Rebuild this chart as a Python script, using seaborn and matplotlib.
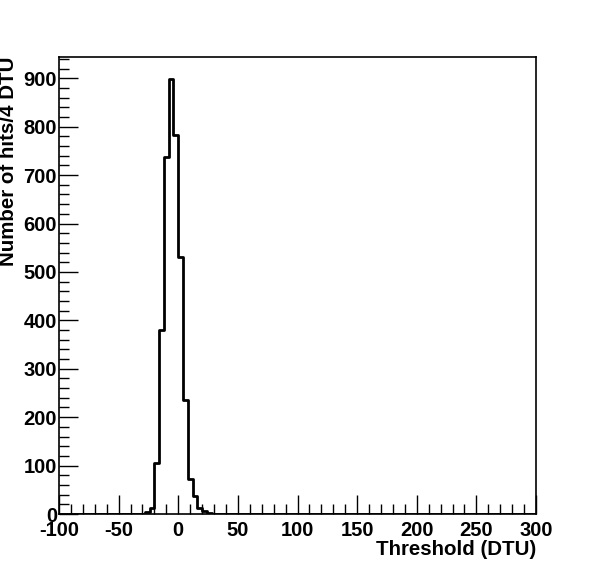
import numpy as np
import pandas as pd
import matplotlib
matplotlib.use("Agg")
import matplotlib.pyplot as plt
import seaborn as sns
from matplotlib.ticker import MultipleLocator

# Histogram: bin width 4 DTU from -100 to 300
bin_lo = -100
bin_hi = 300
bin_width = 4
# non-empty bins: left edge -> count
nonzero_left_edges = [-28, -24, -20, -16, -12, -8, -4, 0, 4, 8, 12, 16, 20, 24, 28]
nonzero_counts =     [4,   13,  105, 380, 737, 898, 783, 531, 236, 73, 38, 13, 6,  3,  1]

x_ticks = [-100, -50, 0, 50, 100, 150, 200, 250, 300]
y_ticks = [0, 100, 200, 300, 400, 500, 600, 700, 800, 900]
x_label = "Threshold (DTU)"
y_label = "Number of hits/4 DTU"

edges = np.arange(bin_lo, bin_hi + bin_width, bin_width)
df = pd.DataFrame({"x": np.array(nonzero_left_edges) + bin_width / 2.0,
                   "w": nonzero_counts})

sns.set_theme(style="white")
plt.rcParams['font.family'] = ['Liberation Sans', 'DejaVu Sans']
plt.rcParams['font.weight'] = 'bold'
plt.rcParams['axes.unicode_minus'] = False
plt.rcParams['text.color'] = 'black'
plt.rcParams['xtick.color'] = 'black'
plt.rcParams['ytick.color'] = 'black'

fig = plt.figure(figsize=(5.96, 5.72), dpi=100)
ax = fig.add_axes([59/596, 1 - 514/572, (536 - 59)/596, (514 - 57)/572])

sns.histplot(data=df, x="x", weights="w", bins=list(edges), element="step",
             fill=False, color="black", linewidth=2.0, ax=ax)

ax.set_xlim(bin_lo, bin_hi)
ax.set_ylim(0, 944)
ax.set_xticks(x_ticks)
ax.set_yticks(y_ticks)
ax.set_xticklabels([str(v) for v in x_ticks])
ax.set_yticklabels([str(v) for v in y_ticks])
ax.xaxis.set_minor_locator(MultipleLocator(10))
ax.yaxis.set_minor_locator(MultipleLocator(20))
ax.tick_params(which='both', direction='in', top=False, right=False,
               bottom=True, left=True, colors='black', labelcolor='black', width=1.0)
ax.tick_params(which='major', length=14, labelsize=14.5)
ax.tick_params(which='minor', length=7)
ax.tick_params(axis='y', which='major', pad=1.5)
ax.tick_params(axis='x', which='major', pad=5)
for lab in ax.get_xticklabels() + ax.get_yticklabels():
    lab.set_fontweight('bold')
ax.set_xlabel("")
ax.set_ylabel("")
for sp in ax.spines.values():
    sp.set_color('black')
    sp.set_linewidth(1.2)
ax.grid(False)

fig.text(536/596, 1 - 549.5/572, x_label, ha='right', va='center',
         fontsize=14.8, fontweight='bold', color='black')
fig.text(9/596, 1 - 57/572, y_label, ha='center', va='top', rotation=90,
         fontsize=14.8, fontweight='bold', color='black')

fig.savefig("out.png", dpi=100, facecolor='white')
